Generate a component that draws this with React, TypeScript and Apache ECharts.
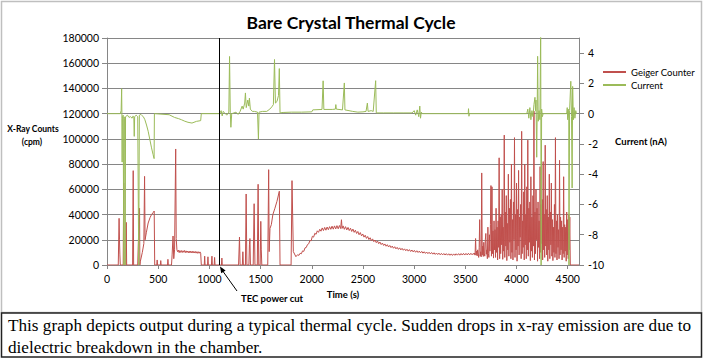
import React, { useEffect, useRef } from "react";
import * as echarts from "echarts";

const titleText = "Bare Crystal Thermal Cycle";
const seriesNames = ["Geiger Counter", "Current"];
const leftAxisTitle = ["X-Ray Counts", "(cpm)"];
const rightAxisTitle = "Current (nA)";
const xAxisTitle = "Time (s)";
const annotationText = "TEC power cut";
const captionLines = [
  "This graph depicts output during a typical thermal cycle. Sudden drops in x-ray emission are due to",
  "dielectric breakdown in the chamber.",
];

const timeRange = [0, 4610];
const timeInterval = 500;
const countsRange = [0, 180000];
const countsInterval = 20000;
const currentRange = [-10, 5];
const currentInterval = 2;
const currentTickValues = [-10, -8, -6, -4, -2, 0, 2, 4];
const tecPowerCut = 1095;

// Geiger counter (cpm) vs time (s)
const geigerEarlyBursts: [number, number][] = [
  [0, 0], [110, 0], [115, 0], [118, 37000], [122, 20000], [126, 8000], [130, 0],
  [158, 0], [163, 65000], [167, 0], [184, 0], [188, 33800], [192, 0],
  [250, 0], [256, 74800], [260, 0], [300, 0], [305, 15000], [312, 32000], [318, 45000], [321, 0],
  [326, 3000], [345, 10000], [360, 17000], [367, 70300], [372, 20000], [385, 26000], [402, 33300],
  [420, 37500], [435, 40000], [450, 41500], [461, 42800], [466, 0],
  [486, 0], [490, 4000], [494, 0], [521, 0], [525, 3500], [529, 0], [591, 0], [595, 4500], [599, 0],
  [630, 0], [636, 8000], [645, 23000], [652, 5000], [660, 12000], [671, 92000], [676, 21000], [683, 12000],
];
const geigerPlateau: [number, number][] = [
  [690, 10500], [697, 11800], [705, 9800], [712, 11500], [720, 10000], [728, 11400], [735, 9900],
  [743, 11300], [750, 10100], [758, 11500], [765, 9800], [773, 11200], [780, 9900], [788, 11100],
  [795, 9700], [803, 11000], [810, 9600], [818, 11000], [825, 9700], [833, 10900], [840, 9500],
  [848, 10800], [855, 9500], [863, 10700], [870, 9400], [878, 10600], [885, 9300], [893, 10500],
  [900, 9300], [908, 10400], [915, 9400], [921, 0], [950, 0], [954, 7000], [958, 0], [982, 0],
  [986, 6500], [990, 0], [1020, 0], [1025, 7000], [1029, 0], [1047, 0], [1051, 6000], [1055, 0],
  [1118, 0], [1122, 5500], [1126, 0],
];
const geigerReheatBursts: [number, number][] = [
  [1285, 0], [1294, 22200], [1300, 0], [1322, 0], [1327, 10500], [1332, 0], [1352, 0], [1359, 56300],
  [1366, 0], [1386, 0], [1391, 16000], [1396, 21000], [1401, 0], [1428, 0], [1437, 48600], [1445, 0],
  [1468, 0], [1476, 64000], [1482, 0], [1496, 0], [1502, 34600], [1507, 12000], [1512, 0],
  [1570, 0], [1579, 75600], [1584, 10600], [1592, 29000], [1605, 32000], [1620, 40000], [1640, 45000],
  [1660, 50500], [1683, 58500], [1690, 0], [1798, 0], [1807, 66900], [1820, 10600], [1845, 6600],
];
const geigerWarmCurve: [number, number][] = [
  [1850, 6800], [1862, 8200], [1874, 7600], [1886, 9300], [1898, 8900], [1910, 11200], [1922, 10800],
  [1934, 13600], [1946, 13900], [1958, 16200], [1970, 16800], [1982, 19400], [1994, 19200], [2006, 22800],
  [2018, 22100], [2030, 25200], [2042, 24300], [2054, 27100], [2066, 25900], [2078, 28300], [2090, 26800],
  [2102, 29400], [2114, 27300], [2126, 29800], [2138, 27600], [2150, 30100], [2162, 28000], [2174, 30400],
  [2186, 28300], [2198, 30800], [2210, 28400], [2222, 31000], [2234, 28600], [2246, 31200], [2258, 28700],
  [2270, 31300], [2282, 28900], [2290, 35900], [2296, 29000], [2306, 31000], [2318, 28300], [2330, 30400],
  [2342, 27800], [2354, 29800], [2366, 27300], [2378, 29200], [2390, 26600], [2402, 28500], [2414, 25900],
  [2426, 27600], [2438, 25000], [2450, 26600], [2462, 24000], [2474, 25700], [2486, 23100], [2498, 24600],
  [2510, 22100], [2522, 23600], [2534, 21100], [2546, 22600], [2558, 20200], [2570, 21600], [2582, 19300],
  [2594, 20700], [2606, 18500], [2618, 19800], [2630, 17700], [2642, 19000], [2654, 16900], [2666, 18200],
  [2678, 16200], [2690, 17400], [2702, 15500], [2714, 16700], [2726, 14900], [2738, 16100], [2750, 14300],
  [2762, 15500], [2774, 13800], [2786, 15000], [2798, 13300], [2810, 14500], [2822, 12800], [2834, 14000],
  [2846, 12400], [2858, 13600], [2870, 12000], [2882, 13200], [2894, 11700], [2906, 12800], [2918, 11300],
  [2930, 12500], [2942, 11000], [2954, 12200], [2966, 10700], [2978, 11900], [2990, 10400], [3002, 11600],
  [3014, 10100], [3026, 11300], [3038, 9900], [3050, 11000], [3062, 9600], [3074, 10800], [3086, 9400],
  [3098, 10500], [3110, 9200], [3122, 10300], [3134, 9000], [3146, 10100], [3158, 8800], [3170, 9900],
  [3182, 8600], [3194, 9700], [3206, 8400], [3218, 9500], [3230, 8300], [3242, 9400], [3254, 8100],
  [3266, 9200], [3278, 8000], [3290, 9100], [3302, 7900], [3314, 9000], [3326, 7800], [3338, 8900],
  [3350, 7700], [3362, 8800], [3374, 7600], [3386, 8800], [3398, 7700], [3410, 8900], [3422, 7800],
  [3434, 9000], [3446, 7800], [3458, 9100], [3470, 7900], [3482, 9200], [3494, 7900], [3506, 9200],
  [3518, 8000], [3530, 9300], [3542, 8000], [3554, 9300], [3566, 8100], [3578, 9200],
];
const geigerBreakdown: [number, number][] = [
  [3585, 8400], [3590, 9500], [3595, 7800], [3600, 21000], [3605, 8000], [3610, 11000], [3615, 7200],
  [3620, 12000], [3625, 8800], [3630, 6000], [3635, 14000], [3640, 36000], [3645, 7000], [3650, 10500],
  [3655, 6500], [3660, 73000], [3665, 8000], [3670, 15000], [3675, 6800], [3680, 18000], [3685, 9000],
  [3690, 7000], [3695, 20000], [3700, 25000], [3705, 8500], [3710, 12000], [3715, 5000], [3720, 30000],
  [3725, 9000], [3730, 6000], [3735, 24000], [3740, 11000], [3745, 32000], [3750, 63000], [3755, 7000],
  [3760, 62000], [3765, 9000], [3770, 27000], [3775, 5500], [3780, 35000], [3785, 12000], [3790, 28000],
  [3795, 6000], [3800, 45000], [3805, 10000], [3810, 30000], [3815, 4000], [3820, 35000], [3825, 14000],
  [3830, 85000], [3835, 5000], [3840, 38000], [3845, 9000], [3850, 40000], [3855, 16000], [3860, 60000],
  [3865, 4500], [3870, 30000], [3875, 11000], [3880, 103000], [3885, 6000], [3890, 42000], [3895, 15000],
  [3900, 55000], [3905, 3500], [3910, 33000], [3915, 12000], [3920, 72000], [3925, 7000], [3930, 45000],
  [3935, 18000], [3940, 52000], [3945, 5000], [3950, 80000], [3955, 10000], [3960, 36000], [3965, 4000],
  [3970, 50000], [3975, 20000], [3980, 101000], [3985, 6000], [3990, 40000], [3995, 12000], [4000, 65000],
  [4005, 3000], [4010, 44000], [4015, 15000], [4020, 75000], [4025, 8000], [4030, 38000], [4035, 22000],
  [4040, 48000], [4045, 5000], [4050, 106000], [4055, 9000], [4060, 35000], [4065, 14000], [4070, 58000],
  [4075, 4000], [4080, 80000], [4085, 16000], [4090, 40000], [4095, 5000], [4100, 62000], [4105, 12000],
  [4110, 99000], [4115, 7000], [4120, 45000], [4125, 18000], [4130, 50000], [4135, 3500], [4140, 70000],
  [4145, 11000], [4150, 38000], [4155, 6000], [4160, 55000], [4165, 15000], [4170, 122000], [4175, 4000],
  [4180, 42000], [4185, 9000], [4190, 60000], [4195, 20000], [4200, 45000], [4205, 3000], [4210, 50000],
  [4215, 14000], [4220, 35000], [4225, 5000], [4230, 78000], [4235, 10000], [4240, 48000], [4245, 17000],
  [4250, 52000], [4255, 4000], [4260, 82000], [4265, 12000], [4270, 40000], [4275, 6000], [4280, 95000],
  [4285, 15000], [4290, 44000], [4295, 8000], [4300, 55000], [4305, 3000], [4310, 38000], [4315, 12000],
  [4320, 72000], [4325, 5000], [4330, 42000], [4335, 16000], [4340, 65000], [4345, 7000], [4350, 36000],
  [4355, 3500], [4360, 30000], [4365, 10000], [4370, 48000], [4375, 6000], [4380, 101000], [4385, 9000],
  [4390, 35000], [4395, 4000], [4400, 40000], [4405, 14000], [4410, 28000], [4415, 5000], [4420, 83000],
  [4425, 8000], [4430, 38000], [4435, 12000], [4440, 35000], [4445, 4000], [4450, 30000], [4455, 9000],
  [4460, 70000], [4465, 6000], [4470, 32000], [4475, 11000], [4480, 30000], [4485, 3000], [4490, 42000],
  [4495, 8000], [4500, 36000], [4505, 5000], [4510, 40000], [4515, 12000], [4520, 38000], [4525, 0],
  [4610, 0],
];

// Current (nA) vs time (s)
const currentEarly: [number, number][] = [
  [0, 0], [130, 0], [138, 0.2], [143, 1.65], [146, -0.3], [148, -3.2], [150, -0.2], [158, -0.1],
  [164, -10], [166, -0.2], [172, -0.3], [178, -10], [181, -0.2], [200, -0.1], [215, -0.25], [230, -0.2],
  [245, -0.3], [255, -0.15], [262, -0.2], [266, -1.5], [270, -0.2], [285, -0.1], [300, -0.2], [310, -10],
  [316, -0.1], [330, -0.05], [337, -0.1], [355, -0.2], [370, -0.4], [386, -0.75], [402, -1.16], [418, -1.7],
  [435, -2.26], [450, -2.7], [460, -2.97], [463, 0], [607, -0.07], [660, -0.25], [700, -0.33], [727, -0.4],
  [760, -0.5], [791, -0.57], [830, -0.62], [873, -0.51], [915, -0.46], [921, 0], [1100, 0],
];
const currentReheat: [number, number][] = [
  [1115, 0.2], [1125, -0.15], [1135, 0.15], [1150, 0.05], [1170, -0.1], [1190, 0.1], [1197, 3.78],
  [1204, 0.1], [1210, -0.9], [1218, 0], [1240, 0.05], [1260, 0.1], [1280, -0.05], [1300, 0.15], [1320, 0.5],
  [1330, 0.3], [1345, 0.7], [1352, 1.37], [1360, 0.4], [1375, 0.9], [1385, 0.5], [1391, 1.03], [1400, 0.3],
  [1420, 0.15], [1440, 0.15], [1470, 0.1], [1479, -1.68], [1485, 0.1], [1520, 0.15], [1560, 0.15],
  [1590, 0.3], [1610, 0.45], [1625, 0.6], [1636, 3.58], [1645, 0.7], [1660, 0.8], [1675, 1.2], [1683, 2.98],
  [1690, 0.05],
];
const currentMid: [number, number][] = [
  [1720, 0.08], [1800, 0.1], [1900, 0.1], [2000, 0.12], [2010, 0.25], [2100, 0.28], [2111, 2.17],
  [2118, 0.28], [2200, 0.28], [2230, 0.3], [2235, 0.6], [2240, 0.3], [2300, 0.25], [2318, 2.03], [2324, 0.25],
  [2400, 0.15], [2450, 0.1], [2500, 0.12], [2530, 0.15], [2543, 0.7], [2550, 0.15], [2580, 0.2], [2600, 0.15],
  [2624, 2.18], [2630, 0.05], [2700, 0.05], [2800, 0.05], [2900, 0.05], [2980, 0.05], [3000, 0.2],
  [3015, -0.1], [3030, 0.25], [3045, -0.2], [3055, 0.5], [3062, -0.3], [3070, 0.1], [3080, 0], [3528, 0],
  [3531, 0.33], [3535, -0.17], [3540, 0],
];
const currentBreakdown: [number, number][] = [
  [4100, 0], [4110, 0.3], [4120, -0.3], [4130, 0.4], [4140, -0.4], [4150, 0.2], [4160, -0.2], [4170, 0.6],
  [4180, 1.08], [4185, 0.2], [4190, 0.9], [4197, -2.88], [4202, 0.5], [4206, 3.79], [4212, -0.5], [4220, 0.2],
  [4228, -0.4], [4236, 6], [4240, -10], [4245, 0.3], [4252, -0.2], [4260, 0], [4490, 0], [4495, 0.4],
  [4500, -0.4], [4505, 0.3], [4510, -0.3], [4512, -10], [4518, 0.2], [4530, 2.14], [4537, -0.2],
  [4543, -4.91], [4548, 1.8], [4555, -0.4], [4562, 0.4], [4570, -0.3], [4578, 0.2], [4585, 0],
];

const geigerData = [
  ...geigerEarlyBursts, ...geigerPlateau, ...geigerReheatBursts, ...geigerWarmCurve, ...geigerBreakdown,
];
const currentData = [...currentEarly, ...currentReheat, ...currentMid, ...currentBreakdown];

const RED = "#C0504D";
const GREEN = "#9BBB59";
const GRID = "#868686";
const FONT = "Lato";

function txt(text: string, x: number, y: number, size: number, weight: string, align: string, family = FONT) {
  return {
    type: "text",
    x,
    y,
    silent: true,
    style: {
      text,
      fill: "#000",
      fontSize: size,
      fontFamily: family,
      fontWeight: weight,
      align,
      textAlign: align,
      verticalAlign: "middle",
      textVerticalAlign: "middle",
    },
  };
}

const plain = (v: number) => String(v);

export default function App() {
  const ref = useRef<HTMLDivElement>(null);
  useEffect(() => {
    if (!ref.current) return;
    const chart = echarts.init(ref.current, null, { renderer: "svg" });
    const axisLabelBase = { fontFamily: FONT, fontSize: 10.5, color: "#000", formatter: plain };
    chart.setOption({
      animation: false,
      backgroundColor: "#fff",
      grid: { left: 107, right: 125, top: 38, bottom: 94, containLabel: false },
      legend: {
        orient: "vertical",
        left: 603,
        top: 67,
        itemWidth: 23,
        itemHeight: 2,
        itemGap: 3,
        icon: "rect",
        padding: 0,
        textStyle: { fontFamily: FONT, fontSize: 9.5, color: "#000" },
        data: seriesNames,
        selectedMode: false,
      },
      xAxis: {
        type: "value",
        min: timeRange[0],
        max: timeRange[1],
        interval: timeInterval,
        axisLine: { show: true, lineStyle: { color: GRID, width: 1 } },
        axisTick: { show: true, length: 4, lineStyle: { color: GRID } },
        axisLabel: { ...axisLabelBase, margin: 8, showMaxLabel: false },
        splitLine: { show: false },
      },
      yAxis: [
        {
          type: "value",
          position: "left",
          min: countsRange[0],
          max: countsRange[1],
          interval: countsInterval,
          axisLine: { show: true, lineStyle: { color: GRID, width: 1 } },
          axisTick: { show: true, length: 5, lineStyle: { color: GRID } },
          axisLabel: { ...axisLabelBase, margin: 8 },
          splitLine: { show: true, lineStyle: { color: GRID, width: 1 } },
        },
        {
          type: "value",
          position: "right",
          min: currentRange[0],
          max: currentRange[1],
          interval: currentInterval,
          axisLine: { show: true, lineStyle: { color: GRID, width: 1 } },
          axisTick: { show: true, length: 5, lineStyle: { color: GRID }, customValues: currentTickValues },
          axisLabel: { ...axisLabelBase, margin: 9, customValues: currentTickValues },
          splitLine: { show: false },
        },
      ],
      series: [
        {
          name: seriesNames[0],
          type: "line",
          yAxisIndex: 0,
          data: geigerData,
          symbol: "none",
          showSymbol: false,
          lineStyle: { color: RED, width: 1 },
          itemStyle: { color: RED },
          emphasis: { disabled: true },
          z: 2,
          markLine: {
            silent: true,
            symbol: ["none", "none"],
            label: { show: false },
            lineStyle: { color: "#000", width: 1, type: "solid" },
            emphasis: { disabled: true },
            data: [{ xAxis: tecPowerCut }],
          },
        },
        {
          name: seriesNames[1],
          type: "line",
          yAxisIndex: 1,
          data: currentData,
          symbol: "none",
          showSymbol: false,
          lineStyle: { color: GREEN, width: 1 },
          itemStyle: { color: GREEN },
          emphasis: { disabled: true },
          z: 3,
        },
      ],
      graphic: [
        {
          type: "rect",
          silent: true,
          shape: { x: 1.5, y: 1.5, width: 700, height: 311 },
          style: { fill: "none", stroke: "#bfbfbf", lineWidth: 1.5 },
        },
        {
          type: "rect",
          silent: true,
          shape: { x: 1.5, y: 313, width: 700, height: 44 },
          style: { fill: "#fff", stroke: "#222", lineWidth: 1.5 },
        },
        txt(titleText, 351, 22, 17.5, "bold", "center"),
        txt(leftAxisTitle[0], 33, 129, 8.5, "bold", "center"),
        txt(leftAxisTitle[1], 32, 142, 8.5, "bold", "center"),
        txt(rightAxisTitle, 641, 141, 9.5, "bold", "center"),
        txt(xAxisTitle, 343, 294, 9.5, "bold", "center"),
        txt(annotationText, 241, 298, 9.5, "bold", "left"),
        {
          type: "line",
          silent: true,
          shape: { x1: 237, y1: 291, x2: 222, y2: 270 },
          style: { stroke: "#000", lineWidth: 1 },
        },
        {
          type: "polygon",
          silent: true,
          shape: { points: [[220, 266.5], [225.6, 270.4], [221.2, 273.3]] },
          style: { fill: "#000" },
        },
        txt(captionLines[0], 8, 325, 17.2, "normal", "left", "Liberation Serif"),
        txt(captionLines[1], 8, 347, 17.2, "normal", "left", "Liberation Serif"),
      ],
    });
    return () => chart.dispose();
  }, []);
  return (
    <div
      ref={ref}
      style={{ position: "absolute", left: 0, top: 0, width: 704, height: 359, background: "#fff" }}
    />
  );
}
